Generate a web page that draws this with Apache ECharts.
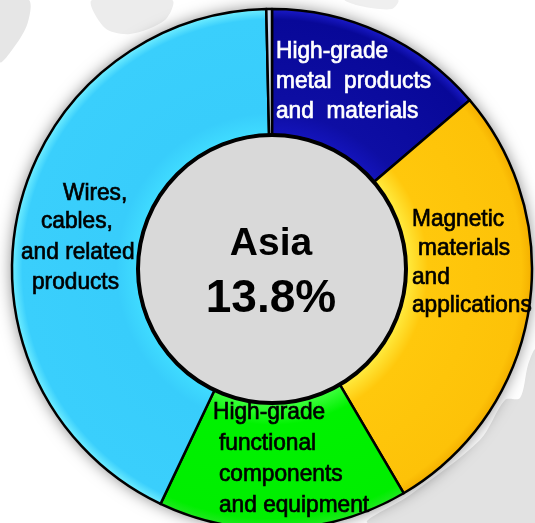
<!DOCTYPE html>
<html><head><meta charset="utf-8">
<style>html,body{margin:0;padding:0;background:#fff}#c{width:535px;height:523px}</style>
<script src="https://cdn.jsdelivr.net/npm/echarts@6/dist/echarts.min.js"></script>
</head><body><div id="c"></div>
<script>
const categories = ["High-grade metal products and materials","Magnetic materials and applications","High-grade functional components and equipment","Wires, cables, and related products","Other"];
const shares = [13.75,27.8,15.5,42.6,0.35];
const labelLines = [
 ["High-grade","metal  products","and  materials"],
 ["Magnetic","materials","and","applications"],
 ["High-grade","functional","components","and equipment"],
 ["Wires,","cables,","and related","products"]
];
const centerLabel = ["Asia","13.8%"];
const sliceColors = [
 ["#1414bc","#0e0ea4","#080898","#1a1ac8"],
 ["#ffec40","#ffc80c","#fdc208","#f4b000"],
 ["#40ff40","#00f200","#00ee00","#20e820"],
 ["#40dcff","#38cdfb","#3acffc","#70eeff"],
 ["#c8d8ec","#c8d8ec","#c8d8ec","#c8d8ec"]
];
const labelLayout = [
 {x:[276,276,276],y:[51,81,111],fill:'#fff'},
 {x:[412,418,412,412],y:[219,248,277,305],fill:'#000'},
 {x:[213,219,219,219],y:[412,443,474,505],fill:'#000'},
 {x:[63,41,21,32],y:[193,221,252,282],fill:'#000'}
];
const cx=272, cy=269, R=260, r=134;
function grad(c){return {type:'radial',x:cx,y:cy,r:R,global:true,colorStops:[
 {offset:r/R,color:c[0]},{offset:0.6,color:c[1]},{offset:0.96,color:c[2]},{offset:1,color:c[3]}]};}
function blob(points,fill){return {type:'polygon',silent:true,z:-1,shape:{points,smooth:0.3},style:{fill:fill||'#e4e4e4'}};}
const labelGraphics=[];
labelLines.forEach((lines,i)=>lines.forEach((t,j)=>labelGraphics.push({
 type:'text',silent:true,z:10,x:labelLayout[i].x[j],y:labelLayout[i].y[j],scaleX:0.945,
 style:{text:t,font:'24px "Liberation Sans"',fill:labelLayout[i].fill,stroke:labelLayout[i].fill,lineWidth:0.7,textAlign:'left',textVerticalAlign:'middle'}
})));
const chart = echarts.init(document.getElementById('c'),null,{renderer:'canvas'});
chart.setOption({
 animation:false,
 backgroundColor:'#fff',
 graphic:[
  blob([[0,0],[29,0],[27,25],[12,50],[0,62]],'#e6e6e6'),
  blob([[92,0],[172,0],[165,20],[130,34],[105,28]],'#ececec'),
  blob([[345,0],[398,0],[392,9],[360,6]],'#efefef'),
  blob([[368,523],[410,495],[480,440],[505,400],[520,398],[528,365],[535,350],[535,523]],'#e2e2e2')
 ].concat(labelGraphics),
 series:[
  {type:'pie',radius:[0,R],center:[cx,cy],silent:true,z:1,label:{show:false},labelLine:{show:false},
   itemStyle:{color:'#000',shadowBlur:16,shadowColor:'rgba(0,0,0,0.5)'},data:[{value:1,name:'ring shadow'}]},
  {type:'pie',radius:[r,R],center:[cx,cy],startAngle:90,clockwise:true,silent:true,z:2,
   itemStyle:{borderColor:'#000',borderWidth:2.5},
   label:{show:false},labelLine:{show:false},
   data:categories.map((name,i)=>({name,value:shares[i],itemStyle:{color:grad(sliceColors[i])}}))
  },
  {type:'pie',radius:[0,r],center:[cx,cy],silent:true,z:3,
   itemStyle:{color:'#d9d9d9',borderColor:'#000',borderWidth:4},
   labelLine:{show:false},
   data:[{value:1,name:'center',label:{show:true,position:'center',offset:[-1,3],
     formatter:'{a|'+centerLabel[0]+'}\n{b|'+centerLabel[1]+'}',
     rich:{a:{fontFamily:'"Liberation Sans"',fontWeight:'bold',fontSize:39,lineHeight:54,color:'#000'},
           b:{fontFamily:'"Liberation Sans"',fontWeight:'bold',fontSize:46,lineHeight:56,color:'#000'}}}}]
  }
 ]
});
</script></body></html>
